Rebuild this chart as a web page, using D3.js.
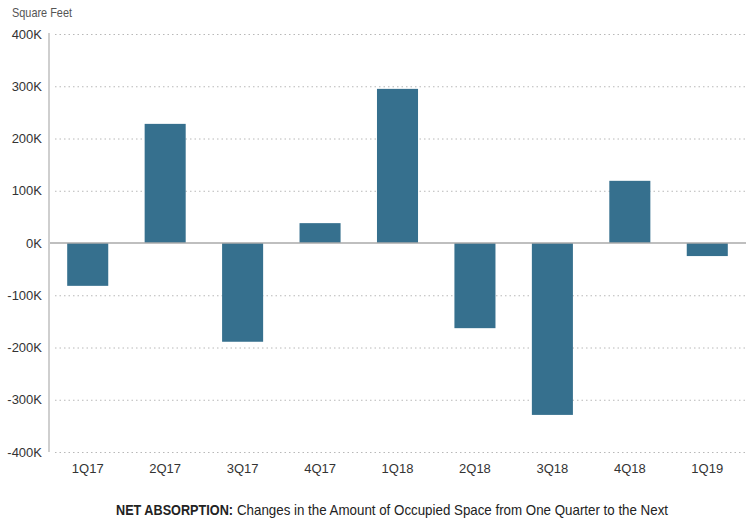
<!DOCTYPE html>
<html>
<head>
<meta charset="utf-8">
<script src="https://cdn.jsdelivr.net/npm/d3@7"></script>
<style>
  body { margin: 0; background: #fff; }
  svg { display: block; font-family: "Liberation Sans Narrow", "Arial Narrow", "Liberation Sans", sans-serif; }
</style>
</head>
<body>
<svg id="chart"></svg>
<script>
const quarters = ["1Q17", "2Q17", "3Q17", "4Q17", "1Q18", "2Q18", "3Q18", "4Q18", "1Q19"];
const absorption = [-82000, 228000, -189000, 38000, 295000, -163000, -329000, 119000, -25000];
const yTicks = [-400000, -300000, -200000, -100000, 0, 100000, 200000, 300000, 400000];

const width = 749;
const height = 523;
const margin = { top: 34, right: 3, bottom: 71, left: 49 };

const svg = d3.select("#chart")
  .attr("width", width)
  .attr("height", height);

const x = d3.scaleBand()
  .domain(quarters)
  .range([margin.left, width - margin.right])
  .paddingInner(0.47)
  .paddingOuter(0.235);

const y = d3.scaleLinear()
  .domain([-400000, 400000])
  .range([height - margin.bottom, margin.top]);

// dotted gridlines
svg.append("g")
  .selectAll("line")
  .data(yTicks.filter(d => d !== 0))
  .join("line")
  .attr("x1", margin.left + 6)
  .attr("x2", width - margin.right)
  .attr("y1", d => y(d) + 0.5)
  .attr("y2", d => y(d) + 0.5)
  .attr("stroke", "#b8b8b8")
  .attr("stroke-width", 1)
  .attr("stroke-dasharray", "1.5,3");

// y labels
const yAxis = svg.append("g")
  .attr("transform", `translate(${margin.left - 7},0)`)
  .call(d3.axisLeft(y).tickValues(yTicks).tickSize(0).tickPadding(0)
    .tickFormat(d => (d / 1000) + "K"));
yAxis.select(".domain").remove();
yAxis.selectAll("text")
  .attr("font-size", 13)
  .attr("fill", "#333")
  .attr("font-family", "inherit");

// bars
svg.append("g")
  .selectAll("rect")
  .data(quarters)
  .join("rect")
  .attr("x", d => x(d))
  .attr("width", x.bandwidth())
  .attr("y", (d, i) => y(Math.max(0, absorption[i])))
  .attr("height", (d, i) => Math.abs(y(absorption[i]) - y(0)))
  .attr("fill", "#36708e");

// zero line
svg.append("line")
  .attr("x1", margin.left)
  .attr("x2", width - margin.right)
  .attr("y1", y(0))
  .attr("y2", y(0))
  .attr("stroke", "#aaa")
  .attr("stroke-width", 1.5);

// y axis line
svg.append("line")
  .attr("x1", margin.left)
  .attr("x2", margin.left)
  .attr("y1", y(400000) - 1)
  .attr("y2", y(-400000))
  .attr("stroke", "#cfcfcf")
  .attr("stroke-width", 2);

// x labels
const xAxis = svg.append("g")
  .attr("transform", `translate(0,${height - margin.bottom + 12})`)
  .call(d3.axisBottom(x).tickSize(0).tickPadding(0));
xAxis.select(".domain").remove();
xAxis.selectAll("text")
  .attr("font-size", 13)
  .attr("fill", "#333")
  .attr("font-family", "inherit");

// unit label
svg.append("text")
  .attr("x", 12)
  .attr("y", 17)
  .attr("font-size", 13)
  .attr("fill", "#555")
  .attr("textLength", 60)
  .attr("lengthAdjust", "spacingAndGlyphs")
  .text("Square Feet");

// caption, two pieces squeezed to the condensed width of the original
svg.append("text")
  .attr("x", 116)
  .attr("y", 515)
  .attr("font-size", 14.5)
  .attr("font-weight", "bold")
  .attr("fill", "#222")
  .attr("textLength", 117)
  .attr("lengthAdjust", "spacingAndGlyphs")
  .text("NET ABSORPTION:");

svg.append("text")
  .attr("x", 237)
  .attr("y", 515)
  .attr("font-size", 14.5)
  .attr("fill", "#222")
  .attr("textLength", 431)
  .attr("lengthAdjust", "spacingAndGlyphs")
  .text("Changes in the Amount of Occupied Space from One Quarter to the Next");
</script>
</body>
</html>
